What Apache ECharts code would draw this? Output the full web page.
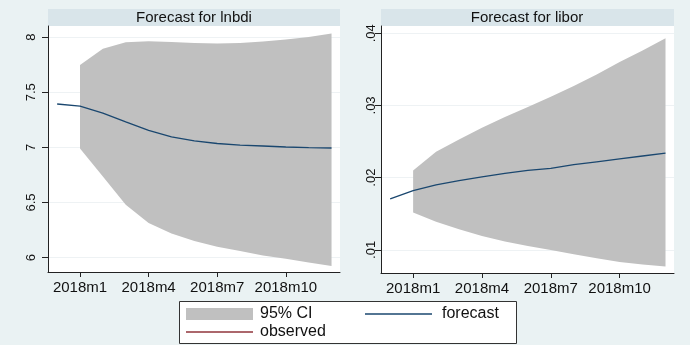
<!DOCTYPE html>
<html>
<head>
<meta charset="utf-8">
<script src="https://cdn.jsdelivr.net/npm/echarts@6/dist/echarts.min.js"></script>
<style>
	html, body { margin: 0; padding: 0; background: #eaf2f3; }
	#chart { width: 690px; height: 345px; }
</style>
</head>
<body>
<div id="chart"></div>
<script>
// months counted from 2018m1 (= 0); -1 is 2017m12
var fcMonths = [-1, 0, 1, 2, 3, 4, 5, 6, 7, 8, 9, 10, 11];
var ciMonths = [0, 1, 2, 3, 4, 5, 6, 7, 8, 9, 10, 11];
var obsMonths = [-1];
var tickMonths = [0, 3, 6, 9];
var tickLabels = ['2018m1', '2018m4', '2018m7', '2018m10'];

// lnbdi
var lnbdiForecast = [7.393, 7.373, 7.311, 7.231, 7.154, 7.094, 7.059, 7.035, 7.020, 7.012, 7.003, 6.997, 6.994];
var lnbdiUpper = [7.746, 7.893, 7.953, 7.962, 7.956, 7.947, 7.941, 7.947, 7.959, 7.977, 8.000, 8.033];
var lnbdiLower = [6.990, 6.735, 6.480, 6.315, 6.220, 6.150, 6.100, 6.060, 6.020, 5.990, 5.955, 5.925];
var lnbdiObserved = [7.393];
var lnbdiTicks = [6, 6.5, 7, 7.5, 8];

// libor
var liborForecast = [0.01705, 0.0182, 0.0190, 0.0196, 0.0201, 0.0206, 0.0210, 0.0213, 0.0218, 0.0222, 0.0226, 0.0230, 0.0234];
var liborUpper = [0.0210, 0.0236, 0.0253, 0.0269, 0.0284, 0.0298, 0.0312, 0.0327, 0.0343, 0.0360, 0.0376, 0.0393];
var liborLower = [0.01516, 0.01391, 0.01286, 0.01193, 0.01115, 0.01055, 0.0100, 0.0094, 0.00885, 0.00834, 0.00797, 0.00770];
var liborObserved = [0.01705];
var liborTicks = [0.01, 0.02, 0.03, 0.04];

var FONT = '"Liberation Sans", Arial, sans-serif';
var BAND = '#c0c0c0';
var NAVY = '#1a476f';
var MAROON = '#90353b';

function pairs(xs, ys) {
	return xs.map(function(x, i) { return [x, ys[i]]; });
}

function xAxisFor(idx) {
	return {
		type: 'value',
		gridIndex: idx,
		min: -1.4,
		max: 11.37,
		axisLine: { show: true, onZero: false, lineStyle: { color: '#222', width: 1 } },
		axisTick: { show: true, length: 5, customValues: tickMonths, lineStyle: { color: '#222' } },
		axisLabel: {
			customValues: tickMonths,
			color: '#111',
			fontFamily: FONT,
			fontSize: 15,
			margin: 8,
			formatter: function(v) { return tickLabels[tickMonths.indexOf(v)]; }
		},
		splitLine: { show: false }
	};
}

function yAxisFor(idx, min, max, ticks, fmt, margin) {
	return {
		type: 'value',
		gridIndex: idx,
		min: min,
		max: max,
		axisLine: { show: true, onZero: false, lineStyle: { color: '#222', width: 1 } },
		axisTick: { show: true, length: 6, customValues: ticks, lineStyle: { color: '#222' } },
		axisLabel: {
			customValues: ticks,
			rotate: 90,
			color: '#111',
			fontFamily: FONT,
			fontSize: 13,
			margin: margin,
			formatter: fmt
		},
		splitLine: { show: true, lineStyle: { color: '#eef2f4', width: 1 } }
	};
}

// CI band as one polygon: upper edge left to right, lower edge back
function bandSeries(idx, lo, hi) {
	return {
		name: '95% CI',
		type: 'custom',
		xAxisIndex: idx, yAxisIndex: idx,
		silent: true,
		itemStyle: { color: BAND },
		encode: { x: 0, y: [1, 2] },
		data: ciMonths.map(function(m, i) { return [m, lo[i], hi[i]]; }),
		renderItem: function(params, api) {
			if (params.dataIndex !== 0) return null;
			var pts = [];
			ciMonths.forEach(function(m, i) { pts.push(api.coord([m, hi[i]])); });
			for (var i = ciMonths.length - 1; i >= 0; i--) pts.push(api.coord([ciMonths[i], lo[i]]));
			return {
				type: 'polygon',
				shape: { points: pts },
				style: { fill: BAND }
			};
		},
		z: 2
	};
}

function lineSeries(idx, name, color, xs, ys) {
	return {
		name: name,
		type: 'line',
		xAxisIndex: idx, yAxisIndex: idx,
		symbol: 'none',
		itemStyle: { color: color },
		lineStyle: { color: color, width: 1.3 },
		data: pairs(xs, ys),
		z: 5
	};
}

var chart = echarts.init(document.getElementById('chart'));
var option = {
	backgroundColor: '#eaf2f3',
	animation: false,
	textStyle: { fontFamily: FONT },
	graphic: [
		{ type: 'rect', left: 48, top: 9, shape: { width: 292, height: 17 }, style: { fill: '#d9e5ea' }, z: -1 },
		{ type: 'rect', left: 381, top: 9, shape: { width: 293, height: 17 }, style: { fill: '#d9e5ea' }, z: -1 },
		{ type: 'rect', left: 179, top: 301, shape: { width: 337, height: 42 }, style: { fill: '#fff', stroke: '#333', lineWidth: 1 }, z: -1 }
	],
	title: [
		{ text: 'Forecast for lnbdi', left: 194, top: 9, textAlign: 'center', padding: 0,
		  textStyle: { fontFamily: FONT, fontSize: 15, fontWeight: 'normal', color: '#111', lineHeight: 17 } },
		{ text: 'Forecast for libor', left: 527, top: 9, textAlign: 'center', padding: 0,
		  textStyle: { fontFamily: FONT, fontSize: 15, fontWeight: 'normal', color: '#111', lineHeight: 17 } }
	],
	legend: [
		{ data: ['95% CI'], left: 186, top: 305, padding: 0, icon: 'rect', itemWidth: 67, itemHeight: 12,
		  selectedMode: false, textStyle: { fontFamily: FONT, fontSize: 16, color: '#111', lineHeight: 18, padding: [0, 0, 0, 2] } },
		{ data: ['forecast'], left: 365, top: 305, padding: 0, icon: 'rect', itemWidth: 67, itemHeight: 1.3,
		  selectedMode: false, textStyle: { fontFamily: FONT, fontSize: 16, color: '#111', lineHeight: 18, padding: [0, 0, 0, 5] } },
		{ data: ['observed'], left: 186, top: 323, padding: 0, icon: 'rect', itemWidth: 67, itemHeight: 1.3,
		  selectedMode: false, textStyle: { fontFamily: FONT, fontSize: 16, color: '#111', lineHeight: 18, padding: [0, 0, 0, 2] } }
	],
	grid: [
		{ left: 48, top: 26, width: 292, height: 246, show: true, backgroundColor: '#fff', borderWidth: 0 },
		{ left: 381, top: 26, width: 293, height: 247, show: true, backgroundColor: '#fff', borderWidth: 0 }
	],
	xAxis: [xAxisFor(0), xAxisFor(1)],
	yAxis: [
		yAxisFor(0, 5.87, 8.1, lnbdiTicks, function(v) { return String(v); }, 10),
		yAxisFor(1, 0.0068, 0.0410, liborTicks, function(v) { return v.toFixed(2).replace(/^0/, ''); }, 3)
	],
	series: [
		bandSeries(0, lnbdiLower, lnbdiUpper),
		lineSeries(0, 'forecast', NAVY, fcMonths, lnbdiForecast),
		lineSeries(0, 'observed', MAROON, obsMonths, lnbdiObserved),
		bandSeries(1, liborLower, liborUpper),
		lineSeries(1, 'forecast', NAVY, fcMonths, liborForecast),
		lineSeries(1, 'observed', MAROON, obsMonths, liborObserved)
	]
};
chart.setOption(option);
</script>
</body>
</html>
